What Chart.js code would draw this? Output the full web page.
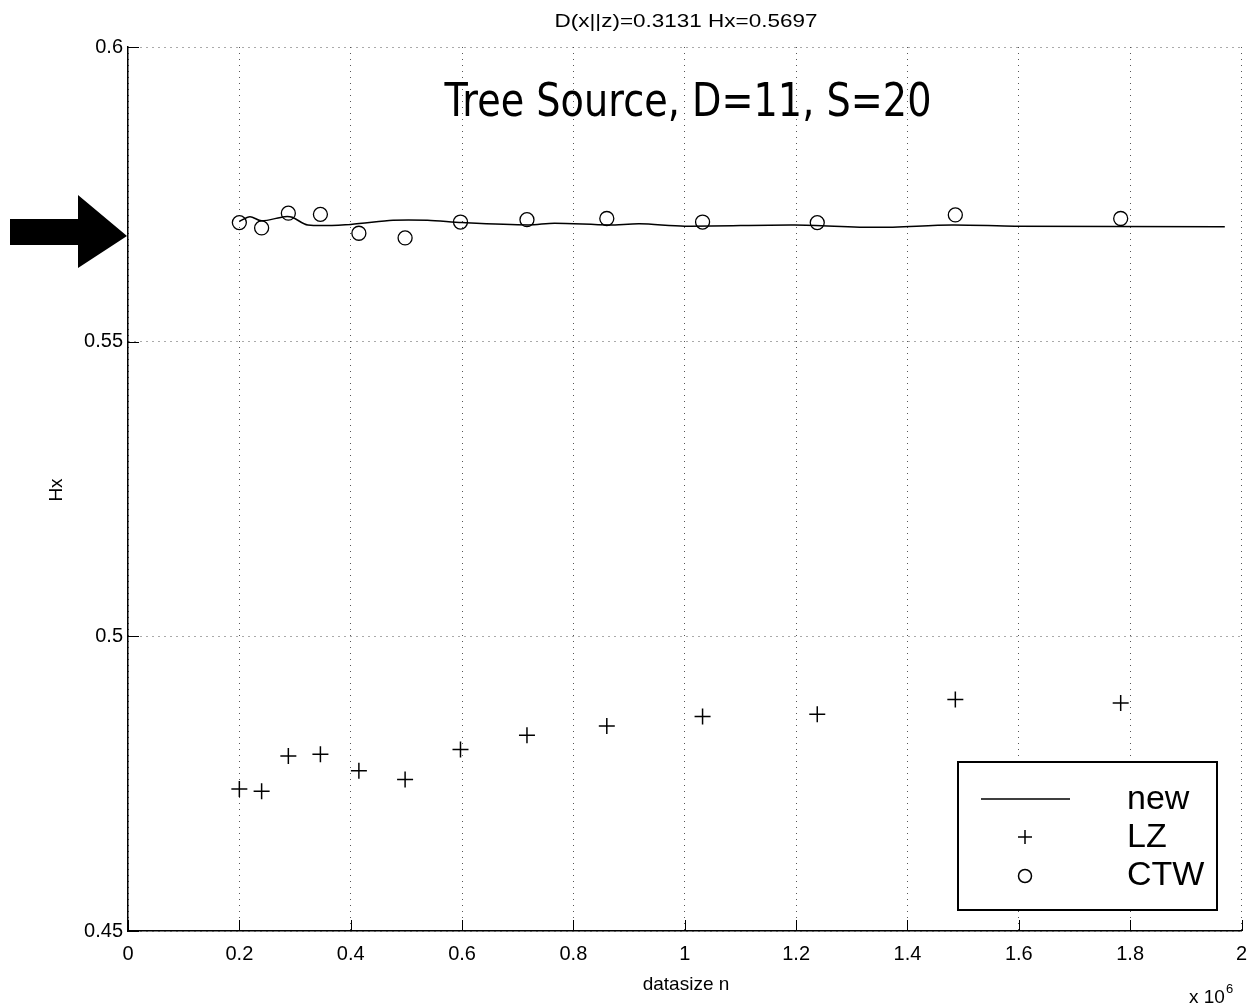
<!DOCTYPE html>
<html>
<head>
<meta charset="utf-8">
<script src="https://cdn.jsdelivr.net/npm/chart.js@4.4.0/dist/chart.umd.min.js"></script>
<style>
  html, body { margin: 0; padding: 0; background: #fff; }
  #wrap { width: 1251px; height: 1006px; }
</style>
</head>
<body>
<div id="wrap"><canvas id="chart" width="1251" height="1006"></canvas></div>
<script>
// datasize n (x 10^6) where LZ and CTW were measured
const nValues = [0.2, 0.24, 0.288, 0.3456, 0.4147, 0.4977, 0.5972, 0.7166, 0.86, 1.032, 1.238, 1.486, 1.783];
const lzValues = [0.4741, 0.4737, 0.4797, 0.4800, 0.4772, 0.4757, 0.4808, 0.4832, 0.4848, 0.4864, 0.4868, 0.4893, 0.4887];
const ctwValues = [0.5702, 0.5693, 0.5718, 0.5716, 0.5684, 0.5676, 0.5703, 0.5707, 0.5709, 0.5703, 0.5702, 0.5715, 0.5709];

// the "new" curve
const newN = [0.2, 0.219, 0.24, 0.281, 0.295, 0.323, 0.4, 0.476, 0.538, 0.6, 0.719, 0.766, 0.863, 0.919, 1.0, 1.198, 1.345, 1.48, 1.593, 1.959, 1.97];
const newValues = [0.5704, 0.5712, 0.5705, 0.5712, 0.5711, 0.5698, 0.5699, 0.5706, 0.5706, 0.5702, 0.5698, 0.5701, 0.5698, 0.5700, 0.5696, 0.5698, 0.5694, 0.5698, 0.5696, 0.5695, 0.5695];

const xTicks = [0, 0.2, 0.4, 0.6, 0.8, 1, 1.2, 1.4, 1.6, 1.8, 2];
const yTicks = [0.45, 0.5, 0.55, 0.6];

const FONT = '"Liberation Sans", Arial, sans-serif';

const toPoints = (xs, ys) => xs.map((x, i) => ({ x: x, y: ys[i] }));

// draws text squeezed/stretched to a given width
function fitText(ctx, text, cx, y, width, font, baseline) {
    ctx.save();
    ctx.font = font;
    const w = ctx.measureText(text).width;
    ctx.translate(cx, y);
    ctx.scale(width / w, 1);
    ctx.textAlign = 'center';
    ctx.textBaseline = baseline || 'middle';
    ctx.fillText(text, 0, 0);
    ctx.restore();
}

const extras = {
    id: 'extras',
    afterDraw(chart) {
        const ctx = chart.ctx;
        const xs = chart.scales.x, ys = chart.scales.y;
        const area = chart.chartArea;
        ctx.save();
        ctx.fillStyle = '#000';
        ctx.strokeStyle = '#000';

        // inward ticks
        ctx.lineWidth = 1;
        ctx.beginPath();
        xTicks.forEach(v => {
            const px = Math.round(xs.getPixelForValue(v)) + 0.5;
            ctx.moveTo(px, area.bottom);
            ctx.lineTo(px, area.bottom - 11);
        });
        yTicks.forEach(v => {
            const py = Math.round(ys.getPixelForValue(v)) + 0.5;
            ctx.moveTo(area.left, py);
            ctx.lineTo(area.left + 11, py);
        });
        ctx.stroke();

        // titles
        fitText(ctx, 'D(x||z)=0.3131 Hx=0.5697', 686, 22, 263, '19px ' + FONT);
        fitText(ctx, 'Tree Source, D=11, S=20', 688, 116, 487, '46px "DejaVu Sans", sans-serif', 'alphabetic');

        ctx.font = '19px ' + FONT;
        ctx.textAlign = 'center';
        ctx.textBaseline = 'middle';
        ctx.fillText('datasize n', 686, 985);
        ctx.save();
        ctx.translate(57, 490);
        ctx.rotate(-Math.PI / 2);
        ctx.fillText('Hx', 0, 0);
        ctx.restore();
        ctx.textAlign = 'left';
        ctx.textBaseline = 'alphabetic';
        ctx.fillText('x 10', 1189, 1003);
        ctx.font = '13px ' + FONT;
        ctx.fillText('6', 1226, 993);

        // big arrow on the left
        ctx.beginPath();
        ctx.moveTo(10, 219);
        ctx.lineTo(78, 219);
        ctx.lineTo(78, 195);
        ctx.lineTo(127, 236);
        ctx.lineTo(78, 268);
        ctx.lineTo(78, 245);
        ctx.lineTo(10, 245);
        ctx.closePath();
        ctx.fill();

        // legend
        ctx.fillStyle = '#fff';
        ctx.fillRect(958, 762, 259, 148);
        ctx.lineWidth = 2;
        ctx.strokeRect(958, 762, 259, 148);
        ctx.fillStyle = '#000';
        ctx.lineWidth = 1.5;
        ctx.beginPath();
        ctx.moveTo(981, 799);
        ctx.lineTo(1070, 799);
        ctx.moveTo(1018, 837);
        ctx.lineTo(1032, 837);
        ctx.moveTo(1025, 830);
        ctx.lineTo(1025, 844);
        ctx.stroke();
        ctx.beginPath();
        ctx.arc(1025, 876, 6.5, 0, Math.PI * 2);
        ctx.stroke();
        ctx.font = '34px ' + FONT;
        ctx.textBaseline = 'middle';
        ctx.fillText('new', 1127, 800);
        ctx.fillText('LZ', 1127, 838);
        ctx.fillText('CTW', 1127, 876);
        ctx.restore();
    }
};

new Chart(document.getElementById('chart'), {
    type: 'scatter',
    data: {
        datasets: [
            {
                label: 'new',
                type: 'line',
                data: toPoints(newN, newValues),
                borderColor: '#000',
                borderWidth: 1.5,
                pointRadius: 0,
                fill: false,
                tension: 0.3
            },
            {
                label: 'LZ',
                data: toPoints(nValues, lzValues),
                pointStyle: 'cross',
                pointRadius: 8,
                borderColor: '#000',
                borderWidth: 1.5,
                backgroundColor: 'transparent'
            },
            {
                label: 'CTW',
                data: toPoints(nValues, ctwValues),
                pointStyle: 'circle',
                pointRadius: 7,
                borderColor: '#000',
                borderWidth: 1.3,
                backgroundColor: 'transparent'
            }
        ]
    },
    options: {
        responsive: false,
        animation: false,
        layout: { padding: { left: 0, top: 47, right: 7, bottom: 0 } },
        plugins: { legend: { display: false }, tooltip: { enabled: false } },
        scales: {
            x: {
                type: 'linear',
                min: 0,
                max: 2,
                afterBuildTicks: s => { s.ticks = xTicks.map(v => ({ value: v })); },
                afterFit: s => { s.height = 75; s.paddingLeft = 0; s.paddingRight = 0; },
                ticks: {
                    color: '#000',
                    font: { family: FONT, size: 20 },
                    padding: 11,
                    maxRotation: 0,
                    callback: v => String(Number(v.toFixed(1)))
                },
                grid: { color: '#555', drawTicks: false, lineWidth: 1 },
                border: { display: true, color: '#000', width: 1.5, dash: [1, 5] }
            },
            y: {
                type: 'linear',
                min: 0.45,
                max: 0.6,
                afterBuildTicks: s => { s.ticks = yTicks.map(v => ({ value: v })); },
                afterFit: s => { s.width = 128; s.paddingTop = 0; s.paddingBottom = 0; },
                ticks: {
                    color: '#000',
                    font: { family: FONT, size: 20 },
                    padding: 5,
                    callback: v => String(Number(v.toFixed(2)))
                },
                grid: { color: '#555', drawTicks: false, lineWidth: 1 },
                border: { display: true, color: '#000', width: 1.5, dash: [1, 5] }
            }
        }
    },
    plugins: [extras]
});
</script>
</body>
</html>
